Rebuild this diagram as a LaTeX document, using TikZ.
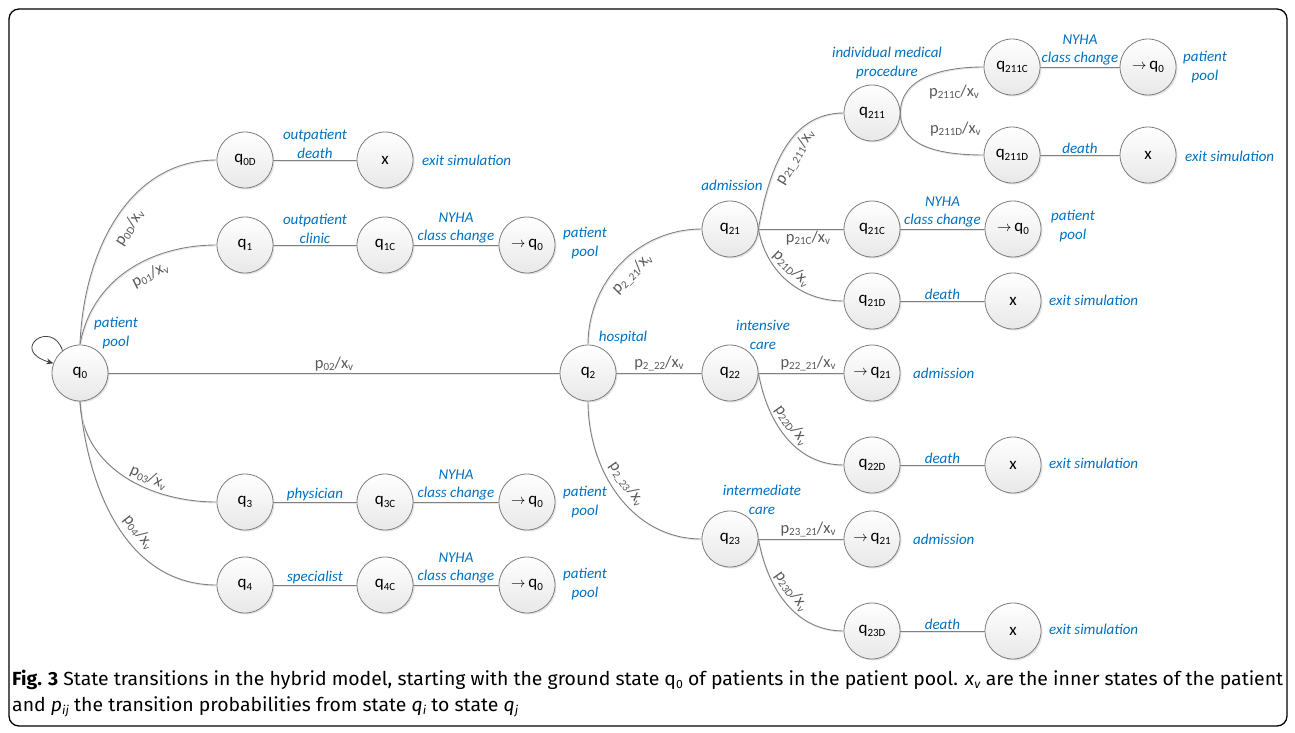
\documentclass[tikz,border=0pt]{standalone}
\usepackage{fontspec}
\usepackage{graphicx}
\setmainfont{Carlito}
\newfontfamily\capfont{Fira Sans}
\usetikzlibrary{shadows,arrows.meta,calc}
\definecolor{nodeb}{RGB}{125,125,125}
\definecolor{linec}{RGB}{128,128,128}
\definecolor{labc}{RGB}{89,89,89}
\definecolor{bluec}{RGB}{0,112,192}
\newcommand\lsub[1]{\raisebox{-0.35ex}{\fontsize{11}{11}\selectfont #1}}
\newcommand\esub[1]{\raisebox{-0.3ex}{\fontsize{11}{11}\selectfont #1}}
\newcommand\csub[1]{\raisebox{-0.35ex}{\fontsize{12}{12}\selectfont #1}}
\newcommand\retq[1]{{\fontsize{14}{14}\selectfont$\rightarrow$}\,q\lsub{#1}}
\newsavebox\capA
\tikzset{
  st/.style={circle, draw=nodeb, line width=0.8pt, minimum size=56pt, inner sep=0pt,
    top color=white, bottom color=black!9,
    drop shadow={shadow xshift=1.5pt, shadow yshift=-1.5pt, opacity=0.22},
    font=\fontsize{17}{17}\selectfont, text=black},
  ln/.style={draw=linec, line width=0.9pt,
    preaction={draw=black!10, line width=0.9pt, transform canvas={xshift=0.8pt, yshift=-1pt}}},
  el/.style={font=\fontsize{16.5}{16.5}\selectfont, text=labc, inner sep=1.5pt},
  bl/.style={font=\fontsize{15}{18.5}\selectfont\itshape, text=bluec, align=center, inner sep=1pt},
  loopst/.style={draw=black!75, line width=0.8pt, -{Stealth[length=7pt,width=6pt]}},
  framest/.style={draw=black, line width=1.3pt, rounded corners=10pt}
}
\begin{document}
\sbox\capA{\capfont\fontsize{19}{19}\selectfont\textbf{Fig. 3} State transitions in the hybrid model, starting with the ground state q\csub{0} of patients in the patient pool. \textit{x}\csub{\textit{v}} are the inner states of the patient}%
\pgfmathsetmacro\capsx{1271/(\the\wd\capA)}%
\begin{tikzpicture}[x=1pt,y=1pt]
\useasboundingbox (0,0) rectangle (1295,-733);
\draw[framest] (9,-9) rectangle (1287,-726);

% nodes
\node[st] (q0) at (80,-373) {q\lsub{0}};
\node[st] (q0D) at (245,-160) {q\lsub{0D}};
\node[st] (x0D) at (385,-160) {x};
\node[st] (q1) at (245,-245) {q\lsub{1}};
\node[st] (q1C) at (385,-245) {q\lsub{1C}};
\node[st] (r1) at (527,-245) {\retq{0}};
\node[st] (q3) at (245,-502) {q\lsub{3}};
\node[st] (q3C) at (385,-502) {q\lsub{3C}};
\node[st] (r3) at (527,-502) {\retq{0}};
\node[st] (q4) at (245,-585) {q\lsub{4}};
\node[st] (q4C) at (385,-585) {q\lsub{4C}};
\node[st] (r4) at (527,-585) {\retq{0}};
\node[st] (q2) at (588,-373) {q\lsub{2}};
\node[st] (q21) at (730,-229) {q\lsub{21}};
\node[st] (q211) at (872,-113) {q\lsub{211}};
\node[st] (q211C) at (1012,-67) {q\lsub{211C}};
\node[st] (r211) at (1148,-67) {\retq{0}};
\node[st] (q211D) at (1012,-155) {q\lsub{211D}};
\node[st] (x211) at (1148,-155) {x};
\node[st] (q21C) at (872,-229) {q\lsub{21C}};
\node[st] (r21) at (1013,-229) {\retq{0}};
\node[st] (q21D) at (872,-301) {q\lsub{21D}};
\node[st] (x21) at (1013,-301) {x};
\node[st] (q22) at (730,-373) {q\lsub{22}};
\node[st] (r22) at (872,-373) {\retq{21}};
\node[st] (q22D) at (872,-465) {q\lsub{22D}};
\node[st] (x22) at (1013,-465) {x};
\node[st] (q23) at (730,-539) {q\lsub{23}};
\node[st] (r23) at (872,-539) {\retq{21}};
\node[st] (q23D) at (872,-631) {q\lsub{23D}};
\node[st] (x23) at (1013,-631) {x};

% self loop
\draw[loopst] (q0.128) .. controls ($(q0)+(-28,55)$) and ($(q0)+(-72,23)$) .. (q0.160);

% edges from q0
\draw[ln] (q0.north) to[out=88,in=180] node[el, sloped, below=7pt, pos=0.5] {p\esub{0D}/x\esub{v}} (q0D.west);
\draw[ln] (q0.north) to[out=80,in=180] node[el, sloped, below=6pt, pos=0.6] {p\esub{01}/x\esub{v}} (q1.west);
\draw[ln] (q0) -- node[el, above] {p\esub{02}/x\esub{v}} (q2);
\draw[ln] (q0.south) to[out=-88,in=180] node[el, sloped, above=2pt, pos=0.62] {p\esub{03}/x\esub{v}} (q3.west);
\draw[ln] (q0.south) to[out=-85,in=180] node[el, sloped, above=5pt, pos=0.57] {p\esub{04}/x\esub{v}} (q4.west);

\draw[ln] (q0D) -- node[bl, above] {outpatient\\death} (x0D);
\draw[ln] (q1) -- node[bl, above] {outpatient\\clinic} (q1C);
\draw[ln] (q1C) -- node[bl, above] {NYHA\\class change} (r1);
\draw[ln] (q3) -- node[bl, above] {physician} (q3C);
\draw[ln] (q3C) -- node[bl, above] {NYHA\\class change} (r3);
\draw[ln] (q4) -- node[bl, above] {specialist} (q4C);
\draw[ln] (q4C) -- node[bl, above] {NYHA\\class change} (r4);

% edges from q2
\draw[ln] (q2.north) to[out=90,in=180] node[el, sloped, below=6pt, pos=0.5] {p\esub{2\_21}/x\esub{v}} (q21.west);
\draw[ln] (q2) -- node[el, above] {p\esub{2\_22}/x\esub{v}} (q22);
\draw[ln] (q2.south) to[out=-90,in=180] node[el, sloped, above=4pt, pos=0.47] {p\esub{2\_23}/x\esub{v}} (q23.west);

% q21 branch
\draw[ln] (q21.east) to[out=80,in=180] node[el, sloped, below=4pt, pos=0.5] {p\esub{21\_211}/x\esub{v}} (q211.west);
\draw[ln] (q21) -- node[el, below, xshift=7pt] {p\esub{21C}/x\esub{v}} (q21C);
\draw[ln] (q21.east) to[out=-80,in=180] node[el, sloped, above=3pt, pos=0.45] {p\esub{21D}/x\esub{v}} (q21D.west);
\draw[ln] (q211.east) to[out=90,in=180] node[el, pos=0.5, xshift=26pt, yshift=-16pt] {p\esub{211C}/x\esub{v}} (q211C.west);
\draw[ln] (q211.east) to[out=-90,in=180] node[el, pos=0.5, xshift=27pt, yshift=19pt] {p\esub{211D}/x\esub{v}} (q211D.west);
\draw[ln] (q211C) -- node[bl, above] {NYHA\\class change} (r211);
\draw[ln] (q211D) -- node[bl, above] {death} (x211);
\draw[ln] (q21C) -- node[bl, above] {NYHA\\class change} (r21);
\draw[ln] (q21D) -- node[bl, above] {death} (x21);

% q22 branch
\draw[ln] (q22) -- node[el, above, xshift=7pt] {p\esub{22\_21}/x\esub{v}} (r22);
\draw[ln] (q22.east) to[out=-80,in=180] node[el, sloped, above=3pt, pos=0.45] {p\esub{22D}/x\esub{v}} (q22D.west);
\draw[ln] (q22D) -- node[bl, above] {death} (x22);

% q23 branch
\draw[ln] (q23) -- node[el, above, xshift=7pt] {p\esub{23\_21}/x\esub{v}} (r23);
\draw[ln] (q23.east) to[out=-80,in=180] node[el, sloped, above=3pt, pos=0.45] {p\esub{23D}/x\esub{v}} (q23D.west);
\draw[ln] (q23D) -- node[bl, above] {death} (x23);

% annotations
\node[bl] (pp0) at (116,-333) {patient\\pool};
\node[bl, anchor=west] (ex0D) at (421,-160) {exit simulation};
\node[bl] (pp1) at (585,-243) {patient\\pool};
\node[bl] (pp3) at (585,-502) {patient\\pool};
\node[bl] (pp4) at (585,-584) {patient\\pool};
\node[bl] (hosp) at (623,-337) {hospital};
\node[bl] (adm21) at (732,-185) {admission};
\node[bl] (imp) at (887,-63) {individual medical\\procedure};
\node[bl] (pp211) at (1205,-67) {patient\\pool};
\node[bl, anchor=west] (ex211) at (1184,-156) {exit simulation};
\node[bl] (pp21) at (1073,-226) {patient\\pool};
\node[bl, anchor=west] (ex21) at (1048,-300) {exit simulation};
\node[bl] (icare) at (763,-335) {intensive\\care};
\node[bl, anchor=west] (adm22) at (912,-373) {admission};
\node[bl, anchor=west] (ex22) at (1048,-463) {exit simulation};
\node[bl] (imcare) at (762,-500) {intermediate\\care};
\node[bl, anchor=west] (adm23) at (912,-539) {admission};
\node[bl, anchor=west] (ex23) at (1048,-629) {exit simulation};

% caption
\node[anchor=base west, inner sep=0pt] (cap1) at (12,-685) {\scalebox{\capsx}[1]{\usebox\capA}};
\node[anchor=base west, inner sep=0pt] (cap2) at (12,-711) {\scalebox{\capsx}[1]{\capfont\fontsize{19}{19}\selectfont and \textit{p}\csub{\textit{ij}} the transition probabilities from state \textit{q}\csub{\textit{i}} to state \textit{q}\csub{\textit{j}}}};
\end{tikzpicture}
\end{document}
